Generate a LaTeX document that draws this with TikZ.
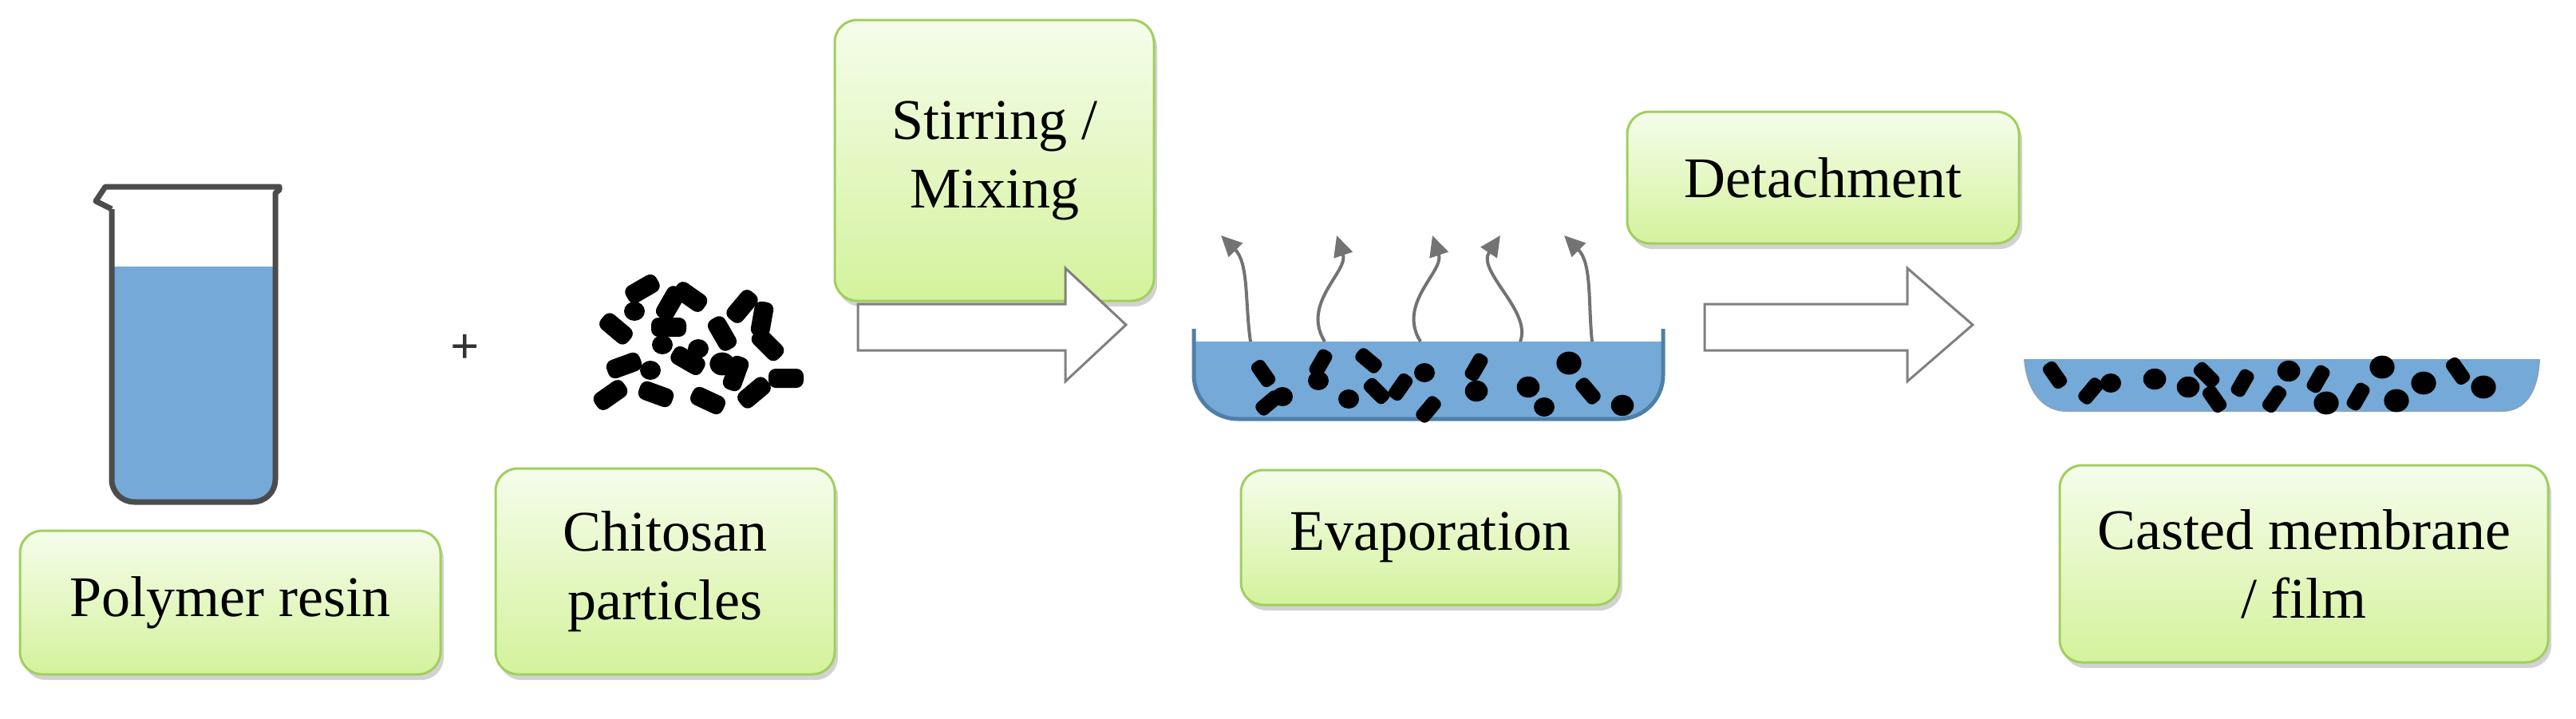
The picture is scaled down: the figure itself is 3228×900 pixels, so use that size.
\documentclass[tikz,border=0pt]{standalone}
\usepackage{fontspec}
\setmainfont{Liberation Serif}
\usetikzlibrary{arrows.meta,shadows}
\definecolor{boxtop}{HTML}{F5FDEB}
\definecolor{boxbot}{HTML}{D4F29C}
\definecolor{boxline}{HTML}{A0CF5E}
\definecolor{liq}{HTML}{74A9D8}
\definecolor{liqline}{HTML}{4F7FA8}
\tikzset{
  box/.style={draw=boxline, line width=3pt, rounded corners=28pt, top color=boxtop, bottom color=boxbot,
    drop shadow={shadow xshift=4pt, shadow yshift=-7pt, fill=black!35},
    align=center, font=\fontsize{72}{86}\selectfont, inner sep=0pt},
  blockarrow/.style={draw=black!50, line width=3pt, fill=white, line join=miter},
  vapor/.style={draw=black!55, line width=4pt, -{Triangle[length=26pt,width=24pt]}},
}
\newcommand\grain[4][1]{\begin{scope}[shift={(#2,#3)},rotate=#4]\fill[black,rounded corners={9pt*#1}]({-22pt*#1},{-12pt*#1}) rectangle ({22pt*#1},{12pt*#1});\end{scope}}
\newcommand\blob[3][1]{\fill[black] (#2,#3) ellipse ({13pt*#1} and {12pt*#1});}
\begin{document}
\begin{tikzpicture}[x=1pt,y=-1pt]
\useasboundingbox (0,0) rectangle (3228,900);
\fill[white] (0,0) rectangle (3228,900);
% boxes
\path[box] (25,665) rectangle (552,845) node[pos=.5] (poly) {Polymer resin};
\path[box] (621,587) rectangle (1046,845) node[pos=.5] (chit) {Chitosan\\particles};
\path[box] (1046,25) rectangle (1446,377) node[pos=.5] (stir) {Stirring /\\Mixing};
\path[box] (1555,589) rectangle (2029,758) node[pos=.5] (evap) {Evaporation};
\path[box] (2039,140) rectangle (2530,305) node[pos=.5] (det) {Detachment};
\path[box] (2581,583) rectangle (3193,830) node[pos=.5] (cast) {Casted membrane\\/ film};
% beaker
\fill[liq] (142,334) [rounded corners=28pt]-- (142,627) -- (343,627) [sharp corners]-- (343,334) -- cycle;
\draw[black!70, line width=7pt, line join=round] (140,262) [rounded corners=28pt]-- (140,629) -- (345,629) [sharp corners]-- (345,242) -- (350,238) -- (350,234) -- (132,234) -- (120,252) -- (140,262);
% plus
\node[font=\bfseries\fontsize{64}{64}\selectfont, text=black!80] (plus) at (583,437) {+};
% particle cluster
\grain{805}{362}{30}\grain{865}{372}{-35}\grain{930}{384}{50}
\grain{772}{412}{-40}\grain{838}{410}{0}\grain{905}{418}{-60}
\grain{962}{432}{-45}\grain{782}{458}{20}\grain{862}{452}{-30}
\grain{922}{468}{70}\grain{985}{474}{0}\grain{765}{495}{35}
\grain{822}{494}{-20}\grain{887}{502}{-25}\grain{945}{492}{40}
\grain{955}{400}{80}\grain{840}{380}{60}
\blob{830}{432}\blob{875}{437}\blob{815}{464}\blob[1.2]{905}{456}\blob{795}{390}
% arrow 1
\draw[blockarrow] (1075,381)--(1335,381)--(1335,336)--(1411,407)--(1335,478)--(1335,439)--(1075,439)--cycle;
% dish
\fill[liq] (1496,428) [rounded corners=55pt]-- (1496,525) -- (2084,525) [sharp corners]-- (2084,428) -- cycle;
\draw[liqline, line width=5pt] (1496,412) [rounded corners=55pt]-- (1496,525) -- (2084,525) [sharp corners]-- (2084,412);
\draw[vapor] (1567,428) .. controls (1560,380) and (1565,330) .. (1530,295);
\draw[vapor] (1660,428) .. controls (1630,380) and (1690,340) .. (1675,295);
\draw[vapor] (1780,428) .. controls (1750,380) and (1810,340) .. (1795,295);
\draw[vapor] (1905,428) .. controls (1920,390) and (1850,340) .. (1880,295);
\draw[vapor] (1995,428) .. controls (1990,380) and (1995,330) .. (1960,295);
\grain[.8]{1583}{468}{-55}\grain[.8]{1590}{505}{40}\blob{1607}{497}
\grain[.8]{1655}{455}{60}\blob{1652}{477}\grain[.8]{1715}{452}{-40}
\blob{1690}{500}\grain[.8]{1725}{490}{-45}\grain[.8]{1755}{485}{55}
\blob{1785}{467}\grain[.8]{1790}{513}{50}\grain[.8]{1850}{460}{60}
\blob[1.1]{1850}{490}\blob[1.1]{1915}{485}\blob{1935}{510}
\blob[1.2]{1966}{455}\grain[.8]{1990}{490}{-50}\blob[1.1]{2033}{508}
% arrow 2
\draw[blockarrow] (2136,381)--(2390,381)--(2390,336)--(2472,407)--(2390,478)--(2390,439)--(2136,439)--cycle;
% film
\fill[liq] (2537,450) .. controls (2540,490) and (2560,515) .. (2590,515) -- (3135,515) .. controls (3165,515) and (3180,490) .. (3182,450) -- cycle;
\draw[liqline!70, line width=2pt] (2537,450) .. controls (2540,490) and (2560,515) .. (2590,515) -- (3135,515) .. controls (3165,515) and (3180,490) .. (3182,450);
\grain[.8]{2575}{470}{-55}\grain[.8]{2620}{490}{50}\blob{2645}{480}
\blob[1.1]{2700}{475}\blob[1.1]{2742}{485}\grain[.8]{2765}{470}{-45}
\grain[.8]{2775}{500}{-55}\grain[.8]{2810}{480}{60}\grain[.8]{2850}{500}{55}
\blob[1.1]{2868}{465}\grain[.8]{2905}{475}{60}\blob[1.2]{2915}{505}
\grain[.8]{2955}{497}{60}\blob[1.2]{2985}{460}\blob[1.2]{3003}{502}
\blob[1.2]{3037}{480}\grain[.8]{3080}{465}{-55}\blob[1.2]{3112}{485}
\end{tikzpicture}
\end{document}
